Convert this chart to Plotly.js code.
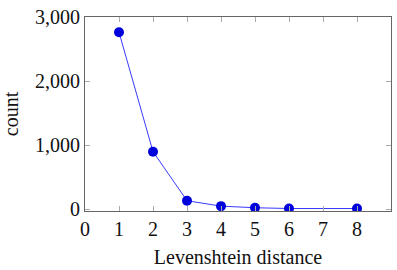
<!DOCTYPE html>
<html><head><meta charset="utf-8">
<script src="https://cdn.plot.ly/plotly-3.0.1.min.js"></script>
<style>html,body{margin:0;padding:0;background:#fff}#c{width:397px;height:270px}</style>
</head><body><div id="c"></div>
<script>
const distance = [1, 2, 3, 4, 5, 6, 8];
const counts = [2762, 896, 130, 45, 20, 8, 8];
const xTicks = [0, 1, 2, 3, 4, 5, 6, 7, 8];
const yTicks = [0, 1000, 2000, 3000];
const yTickText = ["0", "1,000", "2,000", "3,000"];

const font = {family: "Liberation Serif, DejaVu Serif, serif", size: 20, color: "#111"};
Plotly.newPlot("c", [{
  x: distance, y: counts, type: "scatter", mode: "lines+markers",
  line: {color: "#3a3aff", width: 1},
  marker: {color: "#0000dd", size: 10}
}], {
  width: 397, height: 270,
  margin: {l: 85, r: 6, t: 17, b: 59},
  paper_bgcolor: "#fff", plot_bgcolor: "#fff",
  font: font,
  showlegend: false,
  xaxis: {
    range: [0, 9], tickvals: xTicks, ticktext: xTicks.map(String),
    ticks: "inside", ticklen: 5, tickcolor: "#aaa", showgrid: false, zeroline: false,
    showline: true, linecolor: "#666", linewidth: 1, mirror: "ticks",
    title: {text: "Levenshtein distance", font: font, standoff: 10}
  },
  yaxis: {
    range: [-31, 3000], tickvals: yTicks, ticktext: yTickText,
    ticks: "inside", ticklen: 5, tickcolor: "#aaa", showgrid: false, zeroline: false,
    showline: true, linecolor: "#666", linewidth: 1, mirror: "ticks",
    title: {text: "count", font: font, standoff: 16}
  }
}, {staticPlot: true});
</script></body></html>
